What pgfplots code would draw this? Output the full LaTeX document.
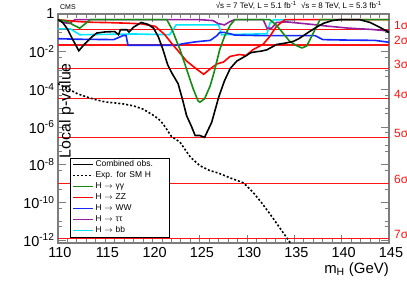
\documentclass[border=0pt]{standalone}
\usepackage{pgfplots}
\pgfplotsset{compat=1.18}
\usepackage{fontspec}
\setmainfont{Liberation Sans}
\definecolor{cgreen}{RGB}{20,140,20}
\definecolor{cred}{RGB}{255,0,0}
\definecolor{cblue}{RGB}{20,40,255}
\definecolor{cpurple}{RGB}{150,30,160}
\definecolor{ccyan}{RGB}{0,230,255}
\definecolor{cframe}{RGB}{125,125,125}
\definecolor{csig}{RGB}{255,20,20}
\begin{document}
\begin{tikzpicture}
\begin{axis}[
  scale only axis, width=331bp, height=229bp,
  xmin=110, xmax=145, ymode=log, ymin=7e-13, ymax=1,
  xtick={110,115,...,145}, minor xtick={110,111,...,145},
  ytick={1e-12,1e-10,1e-8,1e-6,1e-4,1e-2,1},
  yticklabels={10\textsuperscript{-12},10\textsuperscript{-10},10\textsuperscript{-8},10\textsuperscript{-6},10\textsuperscript{-4},10\textsuperscript{-2},1},
  minor ytick={5e-1,1e-1,5e-2,5e-3,1e-3,5e-4,5e-5,1e-5,5e-6,5e-7,1e-7,5e-8,5e-9,1e-9,5e-10,5e-11,1e-11,5e-12},
  axis line style={cframe, line width=1.6bp},
  every tick/.style={cframe, line width=0.9bp},
  major tick length=8bp, minor tick length=4.5bp,
  tick label style={font=\fontsize{14.5}{17}\selectfont},
  xticklabel style={xshift=2bp, yshift=-1bp},
  /pgf/number format/assume math mode=true,
  clip mode=individual,
  legend style={at={(rel axis cs:0.036,0.025)}, anchor=south west, draw=black, line width=0.6bp,
    font=\fontsize{8.5}{10}\selectfont, fill=white, inner xsep=2bp, inner ysep=1bp, row sep=0bp,
    nodes={text height=6.5bp, text depth=2.2bp, inner ysep=1.15bp, inner xsep=1.5bp},
    /tikz/every even column/.append style={text width=70bp}},
  legend cell align=left,
  legend image code/.code={\draw[#1] (0bp,0bp) -- (20bp,0bp);},
]
% legend entries
\addlegendimage{black, line width=1.8bp}
\addlegendentry{Combined  obs.}
\addlegendimage{black, line width=1.8bp, dash pattern=on 2bp off 2bp}
\addlegendentry{Exp. for SM H}
\addlegendimage{cgreen, line width=1.8bp}
\addlegendentry{H $\rightarrow$ γγ}
\addlegendimage{cred, line width=1.8bp}
\addlegendentry{H $\rightarrow$ ZZ}
\addlegendimage{cblue, line width=1.8bp}
\addlegendentry{H $\rightarrow$ WW}
\addlegendimage{cpurple, line width=1.8bp}
\addlegendentry{H $\rightarrow$ ττ}
\addlegendimage{ccyan, line width=1.8bp}
\addlegendentry{H $\rightarrow$ bb}

% sigma lines
\addplot[csig, line width=1.1bp, forget plot] coordinates {(110,0.158655) (145,0.158655)};
\addplot[csig, line width=1.1bp, forget plot] coordinates {(110,0.02275) (145,0.02275)};
\addplot[csig, line width=1.1bp, forget plot] coordinates {(110,1.35e-3) (145,1.35e-3)};
\addplot[csig, line width=1.1bp, forget plot] coordinates {(110,3.167e-5) (145,3.167e-5)};
\addplot[csig, line width=1.1bp, forget plot] coordinates {(110,2.867e-7) (145,2.867e-7)};
\addplot[csig, line width=1.1bp, forget plot] coordinates {(110,9.866e-10) (145,9.866e-10)};
\addplot[csig, line width=1.1bp, forget plot] coordinates {(110,1.28e-12) (145,1.28e-12)};

% H -> bb
\addplot[ccyan, line width=1.6bp, forget plot] coordinates {
(110,0.162) (111.3,0.162) (112.3,0.0794) (118.0,0.0871) (121.8,0.0794) (122.5,0.263)
(127.0,0.263) (127.3,0.0794) (132.1,0.0891) (132.4,0.324) (132.8,0.49) (135,0.49)};
% H -> tautau
\addplot[cpurple, line width=1.6bp, forget plot] coordinates {
(110,0.5) (110.5,0.355) (111.2,0.316) (111.8,0.5) (125.0,0.5) (126.4,0.447) (126.9,0.316)
(127.6,0.263) (128.2,0.398) (128.7,0.5) (131.7,0.5) (132.1,0.178) (132.6,0.178) (133.1,0.355)
(134.2,0.380) (135.4,0.331) (136.8,0.282) (138.6,0.224) (140.7,0.178) (143.2,0.151) (145,0.126)};
% H -> WW
\addplot[cblue, line width=1.6bp, forget plot] coordinates {
(110,0.049) (112.0,0.0457) (115.9,0.0437) (116.9,0.0724) (117.2,0.0724) (117.4,0.0219)
(122.5,0.0219) (123.2,0.0263) (124.5,0.0331) (126.1,0.0398) (126.8,0.0708) (127.1,0.105)
(127.6,0.105) (128.2,0.0891) (128.7,0.0759) (131.9,0.0708) (137.2,0.0708) (138.0,0.0437)
(140,0.0417) (143.5,0.0398) (145,0.0316)};
% H -> ZZ
\addplot[cred, line width=1.6bp, forget plot] coordinates {
(110,0.5) (111.0,0.447) (112.1,0.398) (113.6,0.363) (115.5,0.347) (117.4,0.324) (118.8,0.302)
(120.3,0.219) (121.3,0.0794) (122.0,0.0282) (122.6,0.0126) (123.6,3.16e-3) (124.6,1.26e-3)
(125.4,6.31e-4) (126.0,1.12e-3) (126.8,2.24e-3) (127.5,2.82e-3) (128.2,5.62e-3) (129.2,7.08e-3)
(129.9,6.31e-3) (130.6,0.0126) (131.7,0.0251) (132.4,0.0646) (133.1,0.219) (134.0,0.5) (145,0.5)};
% H -> gamma gamma
\addplot[cgreen, line width=1.6bp, forget plot] coordinates {
(110,0.5) (111.0,0.398) (111.6,0.263) (112.3,0.178) (112.8,0.282) (113.4,0.5) (121.5,0.5)
(122.0,0.178) (122.9,0.0129) (123.6,1.17e-3) (124.3,1.05e-4) (124.8,2.51e-5) (125.0,2.09e-5)
(125.5,3.16e-5) (126.1,1.58e-4) (126.5,7.94e-4) (127.1,0.0129) (127.6,0.0631) (128.2,0.251)
(128.7,0.5) (132.4,0.5) (133.0,0.282) (133.5,0.145) (134.5,0.0355) (135.3,0.02) (135.8,0.0158)
(136.3,0.02) (137.0,0.0977) (137.7,0.5) (145,0.5)};
% expected
\addplot[black, line width=1.6bp, dash pattern=on 2bp off 2bp, forget plot] coordinates {
(110,2.0e-4) (111,1.12e-4) (112,6.03e-5) (113,3.98e-5) (114,2.82e-5) (115,2.14e-5) (116,1.91e-5)
(117,1.66e-5) (118,1.32e-5) (119,8.91e-6) (120,4.47e-6) (120.6,2.75e-6) (121.1,1.51e-6)
(122.0,3.16e-7) (122.9,1.58e-7) (124.0,2.51e-8) (125.0,8.91e-9) (126.0,5.01e-9) (127.0,3.55e-9)
(128.2,2.0e-9) (129.6,1.10e-9) (130.6,3.55e-10) (131.5,1.0e-10) (132.4,2.51e-11) (133.1,7.94e-12)
(133.8,2.51e-12) (134.5,7.94e-13) (135,3.98e-13)};
% combined observed
\addplot[black, line width=1.6bp, forget plot] coordinates {
(110.0,0.5) (110.5,0.355) (111.0,0.158) (111.5,0.0501) (112.2,0.0112) (112.8,0.0251)
(113.5,0.0562) (114.1,0.0977) (115.0,0.112) (116.0,0.117) (116.4,0.0794) (116.6,0.145)
(117.3,0.145) (117.5,0.110) (118.0,0.2) (118.8,0.355) (119.5,0.282) (120.1,0.178)
(120.6,0.0631) (121.1,0.0129) (121.6,0.0020) (122.0,7.94e-4) (122.7,2.0e-4) (123.2,2.51e-5)
(123.6,3.98e-6) (124.1,1.12e-6) (124.5,3.55e-7) (125.0,3.55e-7) (125.5,2.82e-7) (126.25,1.78e-6)
(127.0,3.98e-5) (127.6,2.82e-4) (128.2,1.26e-3) (128.9,3.16e-3) (129.8,5.75e-3) (130.4,8.91e-3)
(131.0,0.01) (131.5,0.0107) (132.1,0.0126) (133.1,0.024) (134.0,0.0282) (134.9,0.0355)
(135.5,0.0501) (136.6,0.117) (137.5,0.224) (138.1,0.324) (139.0,0.447) (139.8,0.5)
(141.9,0.5) (143.0,0.355) (144.0,0.2) (145.0,0.105)};

% sigma labels
\foreach \p/\l in {0.158655/1, 0.02275/2, 1.35e-3/3, 3.167e-5/4, 2.867e-7/5, 9.866e-10/6, 1.28e-12/7}{
  \edef\temp{\noexpand\node[csig, anchor=base west, inner sep=0pt, xshift=5bp, font=\noexpand\fontsize{12}{14}\noexpand\selectfont] at (axis cs:145,\p) {\l σ};}
  \temp
}
% titles
\node[anchor=south west, inner sep=0pt, font=\fontsize{7}{8}\selectfont] at (rel axis cs:0,1) [xshift=2bp, yshift=4bp] {CMS};
\node[anchor=south east, inner sep=0pt, font=\fontsize{8}{9}\selectfont] at (rel axis cs:1,1) [xshift=-7bp, yshift=4bp] {√s = 7 TeV, L = 5.1 fb\textsuperscript{-1}\ \ √s = 8 TeV, L = 5.3 fb\textsuperscript{-1}};
\node[anchor=north east, inner sep=0pt, font=\fontsize{15}{17}\selectfont] at (rel axis cs:1,0) [yshift=-19bp] {m\textsubscript{H} (GeV)};
\node[anchor=north east, rotate=90, inner sep=0pt, font=\fontsize{16}{18}\selectfont] at (rel axis cs:0,1) [xshift=-49bp, yshift=-1bp] {Local p-value};
\coordinate (sw) at (rel axis cs:0,0);
\coordinate (ne) at (rel axis cs:1,1);
\end{axis}
\pgfresetboundingbox
\path ([shift={(-58bp,-38bp)}]sw) rectangle ([shift={(18bp,14bp)}]ne);
\end{tikzpicture}
\end{document}
